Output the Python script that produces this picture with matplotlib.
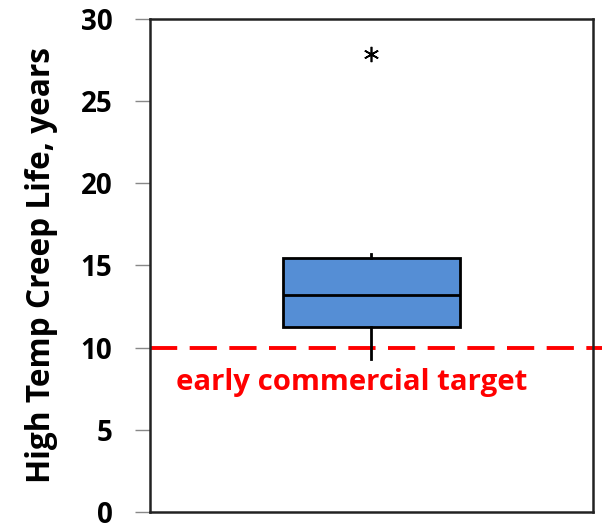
import matplotlib.pyplot as plt

# box statistics (years)
q1 = 11.27
median = 13.2
q3 = 15.48
whislo = 9.28
whishi = 15.72
fliers = [27.85]
target = 10
target_label = 'early commercial target'
yticks = [0, 5, 10, 15, 20, 25, 30]

FONT = 'Open Sans'

fig = plt.figure(figsize=(6.02, 5.32), dpi=100)
ax = fig.add_axes([0.249, 0.038, 0.736, 0.926])

stats = [{'q1': q1, 'med': median, 'q3': q3, 'whislo': whislo,
          'whishi': whishi, 'fliers': fliers}]
ax.bxp(stats, positions=[1], widths=0.4, patch_artist=True, showcaps=False,
       boxprops=dict(facecolor='#558ED5', edgecolor='black', linewidth=2),
       medianprops=dict(color='black', linewidth=2),
       whiskerprops=dict(color='black', linewidth=2),
       flierprops=dict(marker=(6, 2, 0), markersize=11, markeredgecolor='black',
                       markeredgewidth=1.2, linestyle='none'))

# target line, runs a bit past the right frame
ax.plot([0, 1.02], [target, target], transform=ax.get_yaxis_transform(),
        color='#FF0000', linewidth=2.8, dashes=(7, 3.2), clip_on=False, zorder=1)
ax.text(0.06, 7.85, target_label, transform=ax.get_yaxis_transform(),
        color='#FF0000', fontsize=21.2, fontweight='bold', family=FONT, va='center')

ax.set_xlim(0.5, 1.5)
ax.set_ylim(0, 30)
ax.set_yticks(yticks)
ax.set_xticks([])
ax.tick_params(axis='y', direction='out', length=11, width=1, color='#888888', pad=16,
               labelsize=20)
for lbl in ax.get_yticklabels():
    lbl.set_fontweight('bold')
    lbl.set_family(FONT)
for s in ax.spines.values():
    s.set_linewidth(1.8)
    s.set_color('#222222')

ax.set_ylabel('High Temp Creep Life, years', fontsize=22.8, fontweight='bold',
              family=FONT, labelpad=16)

fig.savefig('out.png', dpi=100)
